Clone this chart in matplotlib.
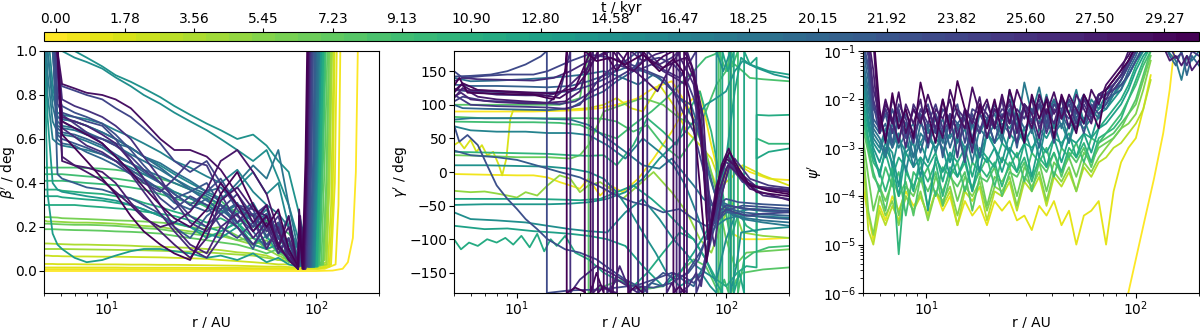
import numpy as np
import matplotlib
matplotlib.use("Agg")
import matplotlib.pyplot as plt
from matplotlib.colors import Normalize
from matplotlib.cm import ScalarMappable

# ---------------- data ----------------
N_SNAP = 50
CBAR_TICK_IDX = [0, 3, 6, 9, 12, 15, 18, 21, 24, 27, 30, 33, 36, 39, 42, 45, 48]
CBAR_TICK_LABELS = ["0.00", "1.78", "3.56", "5.45", "7.23", "9.13", "10.90", "12.80",
                    "14.58", "16.47", "18.25", "20.15", "21.92", "23.82", "25.60",
                    "27.50", "29.27"]

# panel 1: beta' (deg) on a common radius grid, plus the steep outer rise
R_BETA = [5.0, 5.2, 5.5, 5.8, 6.1, 7, 8, 9.5, 11, 13, 15, 18, 21, 25, 30, 35, 42, 50, 58, 66, 74, 82]
BETA_LINES = [
    (0, [0.0, 0.0, 0.0, 0.0, 0.0, 0.0, 0.0, 0.0, 0.0, 0.0, 0.0, 0.0, 0.0, 0.0, 0.0, 0.0, 0.0, 0.0, 0.0, 0.0, 0.0, 0.0],
     [100, 120, 134, 142, 150, 155, 159], [0.0, 0.002, 0.01, 0.04, 0.15, 0.45, 1.1]),
    (1, [0.008, 0.008, 0.008, 0.008, 0.008, 0.008, 0.008, 0.008, 0.008, 0.008, 0.008, 0.008, 0.008, 0.008, 0.008, 0.008, 0.008, 0.008, 0.008, 0.008, 0.008, 0.008],
     [110, 124, 128, 131], [0.01, 0.03, 0.3, 1.1]),
    (2, [0.016, 0.016, 0.016, 0.016, 0.016, 0.016, 0.016, 0.016, 0.016, 0.015, 0.015, 0.015, 0.015, 0.015, 0.014, 0.014, 0.014, 0.013, 0.013, 0.013, 0.012, 0.012],
     [105, 118, 123, 126], [0.015, 0.03, 0.4, 1.1]),
    (3, [0.032, 0.032, 0.032, 0.031, 0.031, 0.031, 0.03, 0.03, 0.03, 0.029, 0.029, 0.028, 0.028, 0.027, 0.026, 0.025, 0.024, 0.022, 0.02, 0.02, 0.018, 0.015],
     [102, 116, 120, 123], [0.01, 0.02, 0.3, 1.1]),
    (4, [0.07, 0.07, 0.068, 0.068, 0.067, 0.066, 0.066, 0.065, 0.065, 0.064, 0.063, 0.062, 0.06, 0.058, 0.055, 0.05, 0.045, 0.04, 0.035, 0.03, 0.03, 0.025],
     [100, 114, 118, 122], [0.02, 0.03, 0.3, 1.1]),
    (6, [0.125, 0.125, 0.124, 0.123, 0.122, 0.12, 0.12, 0.118, 0.117, 0.115, 0.112, 0.11, 0.108, 0.105, 0.1, 0.095, 0.085, 0.08, 0.07, 0.05, 0.06, 0.03],
     [100, 112, 116, 120], [0.02, 0.04, 0.5, 1.1]),
    (7, [0.1, 0.1, 0.1, 0.1, 0.1, 0.099, 0.098, 0.097, 0.096, 0.095, 0.094, 0.092, 0.09, 0.088, 0.085, 0.08, 0.075, 0.07, 0.06, 0.05, 0.045, 0.03],
     [100, 112, 116, 119], [0.02, 0.03, 0.4, 1.1]),
    (8, [0.23, 0.225, 0.225, 0.224, 0.223, 0.22, 0.22, 0.218, 0.215, 0.21, 0.205, 0.2, 0.19, 0.18, 0.17, 0.16, 0.14, 0.12, 0.1, 0.07, 0.05, 0.04],
     [98, 110, 114, 118], [0.02, 0.05, 0.4, 1.1]),
    (10, [0.245, 0.245, 0.244, 0.243, 0.24, 0.238, 0.236, 0.233, 0.23, 0.228, 0.225, 0.22, 0.215, 0.2, 0.19, 0.2, 0.16, 0.12, 0.14, 0.08, 0.06, 0.03],
     [98, 108, 112, 116], [0.02, 0.03, 0.4, 1.1]),
    (11, [0.215, 0.215, 0.214, 0.213, 0.212, 0.21, 0.21, 0.208, 0.205, 0.2, 0.195, 0.19, 0.18, 0.17, 0.16, 0.17, 0.14, 0.15, 0.1, 0.12, 0.06, 0.05],
     [97, 108, 112, 116], [0.03, 0.03, 0.4, 1.1]),
    (12, [0.19, 0.19, 0.19, 0.189, 0.188, 0.186, 0.185, 0.183, 0.18, 0.178, 0.175, 0.17, 0.16, 0.15, 0.14, 0.13, 0.12, 0.1, 0.08, 0.1, 0.04, 0.05],
     [95, 106, 110, 114], [0.02, 0.03, 0.5, 1.1]),
    (14, [0.47, 0.47, 0.47, 0.47, 0.47, 0.47, 0.468, 0.465, 0.46, 0.45, 0.44, 0.42, 0.4, 0.37, 0.33, 0.3, 0.27, 0.25, 0.22, 0.2, 0.17, 0.12],
     [96, 104, 108, 112], [0.05, 0.03, 0.5, 1.1]),
    (15, [0.44, 0.44, 0.44, 0.44, 0.44, 0.435, 0.43, 0.425, 0.42, 0.41, 0.4, 0.38, 0.36, 0.33, 0.29, 0.32, 0.25, 0.2, 0.23, 0.15, 0.1, 0.06],
     [95, 103, 107, 111], [0.04, 0.03, 0.5, 1.1]),
    (16, [0.41, 0.41, 0.41, 0.41, 0.41, 0.405, 0.4, 0.395, 0.39, 0.38, 0.37, 0.35, 0.33, 0.31, 0.3, 0.27, 0.3, 0.22, 0.18, 0.22, 0.12, 0.08],
     [95, 102, 106, 110], [0.04, 0.02, 0.5, 1.1]),
    (18, [0.37, 0.37, 0.37, 0.37, 0.365, 0.36, 0.355, 0.35, 0.34, 0.33, 0.31, 0.29, 0.27, 0.25, 0.22, 0.24, 0.2, 0.26, 0.15, 0.12, 0.15, 0.05],
     [94, 100, 104, 108], [0.03, 0.02, 0.5, 1.1]),
    (19, [0.3, 0.3, 0.3, 0.3, 0.3, 0.3, 0.295, 0.29, 0.285, 0.28, 0.27, 0.26, 0.25, 0.23, 0.2, 0.18, 0.22, 0.15, 0.12, 0.16, 0.08, 0.04],
     [94, 101, 105, 109], [0.03, 0.02, 0.5, 1.1]),
    (20, [0.34, 0.34, 0.34, 0.34, 0.335, 0.33, 0.325, 0.32, 0.31, 0.3, 0.28, 0.25, 0.22, 0.2, 0.15, 0.18, 0.22, 0.12, 0.16, 0.08, 0.1, 0.03],
     [93, 99, 103, 107], [0.02, 0.02, 0.5, 1.1]),
    (22, [1.1, 0.35, 0.17, 0.12, 0.1, 0.06, 0.04, 0.05, 0.07, 0.09, 0.1, 0.1, 0.09, 0.08, 0.06, 0.07, 0.05, 0.08, 0.04, 0.06, 0.03, 0.02],
     [92, 98, 102, 106], [0.03, 0.02, 0.5, 1.1]),
    (23, [1.2, 0.7, 0.4, 0.37, 0.36, 0.35, 0.34, 0.33, 0.32, 0.3, 0.28, 0.25, 0.22, 0.2, 0.17, 0.15, 0.2, 0.12, 0.1, 0.12, 0.05, 0.03],
     [92, 98, 102, 106], [0.03, 0.02, 0.5, 1.1]),
    (24, [1.2, 1.2, 1.2, 1.15, 1.05, 1.0, 0.97, 0.93, 0.89, 0.86, 0.83, 0.79, 0.75, 0.71, 0.67, 0.64, 0.6, 0.62, 0.57, 0.5, 0.45, 0.28],
     [88, 94, 98, 101], [0.15, 0.03, 0.5, 1.1]),
    (25, [1.2, 1.2, 1.15, 1.05, 1.0, 0.97, 0.95, 0.92, 0.88, 0.84, 0.8, 0.76, 0.72, 0.68, 0.64, 0.6, 0.55, 0.5, 0.55, 0.42, 0.3, 0.15],
     [90, 96, 100, 103], [0.06, 0.02, 0.5, 1.1]),
    (26, [1.2, 1.1, 0.85, 0.7, 0.69, 0.68, 0.66, 0.63, 0.6, 0.56, 0.52, 0.48, 0.44, 0.4, 0.36, 0.33, 0.38, 0.45, 0.35, 0.4, 0.2, 0.1],
     [91, 97, 100, 103], [0.05, 0.02, 0.5, 1.1]),
    (27, [1.2, 1.0, 0.8, 0.72, 0.71, 0.7, 0.69, 0.67, 0.64, 0.61, 0.58, 0.54, 0.5, 0.47, 0.43, 0.4, 0.46, 0.36, 0.3, 0.26, 0.2, 0.1],
     [92, 98, 101, 104], [0.04, 0.02, 0.5, 1.1]),
    (28, [1.2, 0.8, 0.6, 0.58, 0.57, 0.56, 0.55, 0.53, 0.5, 0.47, 0.44, 0.4, 0.36, 0.33, 0.3, 0.26, 0.3, 0.22, 0.28, 0.15, 0.12, 0.05],
     [90, 96, 100, 103], [0.03, 0.02, 0.5, 1.1]),
    (29, [1.2, 0.9, 0.68, 0.63, 0.62, 0.61, 0.59, 0.56, 0.52, 0.49, 0.46, 0.43, 0.4, 0.37, 0.34, 0.3, 0.26, 0.31, 0.2, 0.15, 0.1, 0.05],
     [90, 96, 100, 104], [0.03, 0.02, 0.5, 1.1]),
    (30, [1.2, 1.0, 0.75, 0.66, 0.65, 0.64, 0.62, 0.6, 0.57, 0.53, 0.5, 0.46, 0.42, 0.38, 0.35, 0.32, 0.4, 0.48, 0.42, 0.55, 0.3, 0.1],
     [89, 95, 99, 102], [0.04, 0.02, 0.5, 1.1]),
    (31, [1.2, 1.2, 1.0, 0.68, 0.66, 0.65, 0.63, 0.6, 0.58, 0.56, 0.52, 0.49, 0.45, 0.41, 0.36, 0.38, 0.3, 0.22, 0.26, 0.15, 0.1, 0.03],
     [89, 95, 99, 102], [0.02, 0.02, 0.5, 1.1]),
    (32, [1.2, 1.2, 1.0, 0.7, 0.69, 0.68, 0.66, 0.63, 0.6, 0.56, 0.52, 0.47, 0.42, 0.37, 0.32, 0.28, 0.22, 0.3, 0.2, 0.15, 0.25, 0.05],
     [88, 94, 98, 100], [0.03, 0.02, 0.5, 1.1]),
    (33, [1.2, 1.2, 1.1, 0.6, 0.58, 0.57, 0.54, 0.51, 0.48, 0.44, 0.41, 0.37, 0.31, 0.28, 0.33, 0.26, 0.31, 0.18, 0.1, 0.21, 0.05, 0.02],
     [88, 94, 98, 100], [0.05, 0.02, 0.5, 1.1]),
    (34, [1.2, 1.2, 1.05, 0.65, 0.63, 0.62, 0.6, 0.57, 0.53, 0.49, 0.45, 0.4, 0.35, 0.3, 0.27, 0.3, 0.22, 0.26, 0.16, 0.22, 0.08, 0.02],
     [88, 93, 97, 99], [0.06, 0.02, 0.5, 1.1]),
    (35, [1.2, 1.2, 1.1, 0.44, 0.42, 0.4, 0.38, 0.37, 0.35, 0.33, 0.3, 0.26, 0.2, 0.15, 0.25, 0.3, 0.2, 0.1, 0.25, 0.12, 0.06, 0.02],
     [88, 93, 97, 99], [0.08, 0.02, 0.5, 1.1]),
    (36, [1.2, 1.2, 1.1, 0.62, 0.6, 0.58, 0.56, 0.53, 0.5, 0.46, 0.42, 0.37, 0.33, 0.36, 0.4, 0.3, 0.25, 0.18, 0.26, 0.1, 0.14, 0.02],
     [87, 92, 95, 97], [0.08, 0.02, 0.5, 1.1]),
    (37, [1.2, 1.2, 1.2, 0.8, 0.75, 0.72, 0.7, 0.67, 0.62, 0.55, 0.48, 0.4, 0.35, 0.3, 0.36, 0.42, 0.3, 0.28, 0.15, 0.22, 0.1, 0.02],
     [87, 92, 95, 97], [0.1, 0.02, 0.5, 1.1]),
    (38, [1.2, 1.2, 1.2, 0.76, 0.72, 0.7, 0.68, 0.66, 0.6, 0.5, 0.42, 0.33, 0.28, 0.34, 0.3, 0.2, 0.15, 0.22, 0.12, 0.18, 0.06, 0.02],
     [86, 91, 94, 96], [0.1, 0.02, 0.5, 1.1]),
    (39, [1.2, 1.2, 1.2, 0.9, 0.84, 0.82, 0.8, 0.78, 0.74, 0.7, 0.65, 0.58, 0.5, 0.45, 0.5, 0.4, 0.28, 0.2, 0.3, 0.12, 0.05, 0.01],
     [86, 90, 93, 95], [0.12, 0.02, 0.5, 1.1]),
    (40, [1.2, 1.2, 1.2, 0.9, 0.68, 0.65, 0.62, 0.6, 0.57, 0.52, 0.46, 0.4, 0.33, 0.25, 0.2, 0.28, 0.35, 0.25, 0.3, 0.15, 0.1, 0.01],
     [86, 90, 93, 95], [0.15, 0.02, 0.5, 1.1]),
    (41, [1.2, 1.2, 1.2, 1.0, 0.71, 0.67, 0.63, 0.58, 0.52, 0.45, 0.4, 0.36, 0.42, 0.5, 0.48, 0.35, 0.22, 0.3, 0.18, 0.25, 0.08, 0.01],
     [85, 89, 92, 94], [0.15, 0.01, 0.5, 1.1]),
    (42, [1.2, 1.2, 1.2, 1.0, 0.78, 0.75, 0.73, 0.7, 0.66, 0.6, 0.52, 0.42, 0.32, 0.22, 0.18, 0.26, 0.2, 0.12, 0.2, 0.08, 0.15, 0.01],
     [85, 89, 92, 94], [0.2, 0.01, 0.5, 1.1]),
    (43, [1.2, 1.2, 1.2, 1.0, 0.65, 0.61, 0.57, 0.54, 0.5, 0.44, 0.36, 0.26, 0.18, 0.1, 0.06, 0.15, 0.3, 0.25, 0.1, 0.2, 0.05, 0.02],
     [85, 88, 91, 93], [0.2, 0.01, 0.5, 1.1]),
    (44, [1.2, 1.2, 1.2, 1.0, 0.7, 0.68, 0.66, 0.62, 0.58, 0.5, 0.42, 0.3, 0.2, 0.12, 0.08, 0.2, 0.26, 0.15, 0.22, 0.1, 0.06, 0.01],
     [84, 88, 91, 93], [0.15, 0.01, 0.5, 1.1]),
    (45, [1.2, 1.2, 1.2, 1.0, 0.52, 0.48, 0.47, 0.45, 0.4, 0.31, 0.25, 0.18, 0.12, 0.06, 0.15, 0.32, 0.38, 0.28, 0.25, 0.12, 0.2, 0.01],
     [84, 88, 91, 93], [0.25, 0.01, 0.5, 1.1]),
    (46, [1.2, 1.2, 1.2, 1.0, 0.5, 0.48, 0.45, 0.41, 0.36, 0.3, 0.24, 0.2, 0.22, 0.27, 0.37, 0.5, 0.55, 0.45, 0.35, 0.18, 0.08, 0.01],
     [84, 87, 90, 92], [0.2, 0.01, 0.5, 1.1]),
    (47, [1.2, 1.2, 1.2, 1.0, 0.85, 0.83, 0.81, 0.8, 0.78, 0.74, 0.68, 0.6, 0.55, 0.55, 0.52, 0.46, 0.35, 0.22, 0.3, 0.1, 0.25, 0.01],
     [83, 87, 90, 92], [0.28, 0.01, 0.5, 1.1]),
    (48, [1.2, 1.2, 1.2, 1.0, 0.68, 0.65, 0.62, 0.58, 0.52, 0.45, 0.38, 0.3, 0.24, 0.2, 0.28, 0.4, 0.3, 0.18, 0.25, 0.12, 0.05, 0.01],
     [83, 87, 90, 92], [0.2, 0.01, 0.5, 1.1]),
    (49, [1.2, 1.2, 1.2, 1.0, 0.62, 0.56, 0.5, 0.42, 0.35, 0.25, 0.18, 0.12, 0.08, 0.05, 0.2, 0.35, 0.45, 0.3, 0.2, 0.28, 0.1, 0.02],
     [83, 86, 89, 91], [0.25, 0.01, 0.5, 1.1]),
]

# panel 2: gamma' (deg); each line has its own radii (repeated radius = phase wrap)
GAMMA_LINES = [
    (0, [5, 8, 12, 16, 20, 25, 30, 38, 45, 55, 65, 75, 85, 95, 105, 120, 150, 200],
        [90, 90, 90, 91, 92, 95, 100, 110, 125, 135, 100, 60, 0, -40, -90, -100, -100, -98]),
    (1, [5, 7, 10, 12, 14, 16, 18, 20, 22, 25, 28, 32, 38, 45, 55, 65, 75, 85, 95, 105, 115, 130, 160, 200],
        [-3, -4, -5, -5, -8, -15, -20, -25, -10, -35, -20, -30, -10, 20, 60, 100, 120, 40, -20, 15, 10, 0, -10, -12]),
    (3, [5, 5.3, 5.6, 6, 6.4, 6.8, 7.2, 7.7, 8.2, 8.5, 8.9, 9.3, 9.6, 11, 14, 18, 22, 26, 30, 35, 40, 48, 56, 65, 75, 85, 95, 105, 120, 150, 200],
        [40, 45, 35, 48, 30, 40, 25, 30, 10, -5, 20, 80, 92, 92, 92, 93, 95, 100, 110, 95, 90, 130, 100, 60, 40, 20, -20, -10, 10, -5, -20]),
    (8, [5, 6, 7, 8, 9, 10, 11, 12.5, 14, 16, 18, 20, 22, 25, 28, 32, 38, 45, 55, 65, 75, 85, 95, 105, 120, 150, 200],
        [-28, -30, -29, -32, -35, -38, -30, -35, -20, -5, -10, -30, -20, -15, -25, -40, -20, 0, -30, -60, -100, -120, -80, -40, -90, -95, -98]),
    (11, [5, 7, 10, 14, 18, 20, 22, 26, 32, 40, 50, 60, 70, 80, 90, 100, 110, 125, 150, 200],
         [25, 24, 22, 22, 20, 25, 40, 90, 100, 110, 100, 80, 70, 30, -30, -100, -140, -120, -118, -115]),
    (13, [5, 8, 12, 16, 20, 22, 22, 26, 32, 40, 50, 60, 70, 80, 86, 92, 92, 100, 106, 106, 112, 120, 150, 200],
         [100, 100, 100, 100, 110, 180, -180, -170, -160, -175, -170, -150, -130, -140, -160, -180, 180, 150, 180, -180, -160, -150, -145, -142]),
    (14, [5, 7, 10, 14, 18, 22, 26, 30, 36, 42, 50, 60, 70, 80, 90, 100, 110, 120, 130, 150, 200],
         [82, 80, 80, 80, 80, 80, 79, 75, 60, 70, 40, 20, 50, 90, 130, 150, 160, 150, 140, 138, 135]),
    (15, [5, 8, 12, 16, 20, 24, 30, 36, 44, 52, 60, 70, 80, 88, 94, 94, 98, 103, 103, 108, 114, 114, 122, 135, 160, 200],
         [75, 74, 74, 73, 70, 60, 50, 70, 90, 110, 130, 150, 170, 175, 180, -180, -160, -180, 180, 160, 180, -180, -130, -120, -112, -110]),
    (17, [5, 7, 10, 14, 18, 22, 26, 30, 36, 42, 50, 58, 66, 75, 85, 95, 105, 115, 125, 140, 140, 160, 200],
         [30, 29, 28, 27, 25, 24, 25, 10, 40, 80, 60, 40, 90, 120, 60, -20, -100, -60, -80, -90, 50, 42, 42]),
    (19, [5, 5.4, 5.9, 6.5, 7.2, 8, 8.8, 9.6, 10.5, 11.5, 12.5, 13.5, 14.5, 15.5, 17, 19, 22, 26, 30, 36, 42, 50, 60, 70, 80, 90, 100, 113, 125, 140, 140, 160, 200],
         [-100, -115, -105, -110, -100, -105, -98, -108, -95, -112, -92, -118, -100, -110, -95, -120, -130, -150, -160, -170, -150, -120, -90, -100, -130, -160, -170, -150, -140, -142, 85, 84, 85]),
    (20, [5, 8, 12, 16, 20, 25, 30, 36, 44, 52, 60, 70, 80, 88, 96, 96, 102, 109, 109, 116, 122, 122, 130, 140, 140, 160, 200],
         [-40, -40, -40, -41, -42, -40, -30, -20, -40, -60, -80, -100, -130, -160, -180, 180, 150, 180, -180, -150, -180, 180, 160, 170, 20, 30, 35]),
    (21, [5, 7, 9, 12, 15, 18, 22, 27, 33, 40, 50, 60, 70, 80, 90, 100, 110, 118, 130, 160, 200],
         [-80, -85, -84, -88, -90, -92, -95, -100, -110, -140, -170, -150, -120, -90, -60, 20, 120, 170, 160, 150, 145]),
    (23, [5, 7, 10, 14, 18, 22, 27, 33, 40, 48, 56, 64, 72, 80, 90, 100, 110, 120, 140, 170, 200],
         [-49, -48, -48, -48, -47, -45, -40, -30, -10, 20, 40, 60, 80, 100, 110, 120, 150, 165, 155, 145, 140]),
    (24, [5, 7, 10, 14, 18, 22, 26, 30, 35, 40, 46, 52, 60, 68, 76, 84, 90, 90, 97, 105, 105, 112, 118, 150, 200],
         [10, 10, 9, 8, 5, 0, -10, -30, -60, -90, -120, -150, -170, -160, -150, -170, -180, 180, 150, 180, -180, -140, -90, -85, -82]),
    (25, [5, 6, 8, 11, 14, 18, 22, 27, 33, 40, 48, 56, 64, 72, 80, 90, 100, 112, 130, 160, 200],
         [-60, -70, -72, -75, -80, -85, -88, -90, -60, -40, -70, -100, -120, -140, -150, -160, -100, -60, -55, -56, -58]),
    (27, [5, 6, 8, 11, 14, 18, 22, 27, 33, 40, 48, 56, 64, 72, 80, 90, 100, 112, 125, 150, 200],
         [68, 62, 60, 60, 58, 58, 55, 40, 20, 50, 30, 10, -20, -60, -100, -80, -70, -66, -65, -66, -68]),
    (29, [5, 6, 8, 11, 14, 18, 22, 27, 33, 40, 48, 55, 62, 70, 78, 86, 95, 105, 120, 150, 200],
         [78, 80, 80, 80, 79, 78, 70, 50, 30, 10, 5, 20, 0, -20, -40, -50, -55, -60, -70, -75, -80]),
    (31, [5, 6, 8, 11, 14, 17, 21, 26, 32, 38, 45, 52, 60, 68, 75, 82, 90, 98, 108, 120, 150, 200],
         [140, 135, 136, 138, 140, 142, 145, 150, 140, 130, 145, 130, 110, 100, 60, 0, -40, -50, -65, -68, -72, -75]),
    (33, [5, 5.5, 7, 10, 14, 18, 22, 26, 30, 36, 40, 40, 44, 50, 56, 62, 70, 78, 86, 95, 105, 120, 150, 200],
         [100, 95, 94, 93, 92, 95, 110, 120, 135, 150, 180, -180, -165, -170, -150, -160, -170, -140, -80, -45, -50, -55, -58, -60]),
    (34, [5, 6, 8, 11, 14, 18, 22, 27, 33, 40, 48, 56, 64, 72, 80, 88, 96, 105, 120, 150, 200],
         [130, 128, 128, 127, 126, 128, 135, 145, 155, 150, 140, 120, 100, 70, 20, -30, -50, -55, -60, -63, -65]),
    (35, [5, 6, 8, 10, 13, 16, 20, 25, 30, 36, 42, 50, 60, 70, 80, 90, 100, 115, 130, 160, 200],
         [32, 25, 22, 18, 8, 0, -8, -22, -35, -45, -50, -60, -55, -70, -80, -75, -60, -62, -65, -68, -70]),
    (36, [5, 6, 8, 11, 14, 18, 22, 27, 33, 38, 38, 44, 50, 58, 66, 74, 82, 90, 100, 115, 150, 200],
         [122, 120, 119, 118, 118, 120, 128, 140, 165, 180, -180, -165, -150, -160, -150, -130, -90, -50, -40, -45, -48, -50]),
    (37, [5, 5.3, 5.8, 6.5, 7.2, 8, 9, 10, 11, 12.5, 14, 17, 20, 24, 28, 33, 38, 45, 55, 65, 75, 85, 95, 105, 120, 150, 200],
         [70, 45, 55, 40, 10, -20, -40, -55, -70, -85, -100, -115, -120, -130, -145, -160, -170, -172, -165, -150, -120, -80, -60, -55, -50, -52, -55]),
    (38, [5, 6, 7.5, 9, 11, 13, 13.9, 13.9, 18, 24, 30, 38, 45, 55, 62, 70, 78, 85, 92, 100, 112, 130, 160, 200],
         [142, 143, 145, 150, 160, 172, 180, -180, -176, -175, -172, -168, -160, -150, -155, -165, -150, -100, -60, -50, -52, -55, -57, -58]),
    (39, [5, 5.5, 7, 9, 12, 14, 18, 22, 28, 35, 42, 50, 56, 62, 70, 77, 84, 92, 100, 110, 125, 150, 200],
         [150, 140, 143, 145, 145, 150, 165, 175, 170, 160, 150, 140, 120, 90, 60, 10, -40, -70, -55, -60, -65, -62, -60]),
    (40, [5, 5.5, 7, 10, 13, 16, 19, 23, 28, 34, 40, 48, 56, 64, 70, 78, 86, 94, 104, 120, 150, 200],
         [105, 112, 106, 104, 103, 101, 105, 120, 135, 150, 165, 170, 160, 140, 110, 50, -80, -40, 10, -15, -25, -28]),
    (41, [5, 6, 8, 11, 14, 17, 20, 25, 30, 37, 44, 52, 60, 66, 72, 72, 78, 85, 92, 100, 110, 130, 160, 200],
         [115, 100, 98, 97, 96, 94, 100, 140, 160, 150, 160, 150, 140, 160, 180, -180, -150, -90, -40, 5, 20, -10, -20, -24]),
    (42, [5, 6, 8, 11, 14, 16, 18, 18, 20, 24, 28, 32, 36, 40, 42, 42, 48, 55, 60, 60, 66, 72, 76, 80, 86, 93, 100, 115, 140, 200],
         [124, 120, 115, 114, 114, 118, 180, -180, -160, -140, -150, -160, -175, -170, -180, 180, 160, 170, 180, -180, -170, -150, -170, -120, -70, -10, 15, 0, -22, -26]),
    (43, [5, 5.5, 6.5, 9, 12, 15, 18, 22, 27, 27, 30, 34, 38, 38, 44, 50, 57, 64, 70, 76, 82, 88, 96, 105, 120, 150, 200],
         [135, 140, 138, 137, 136, 140, 150, 165, 180, -180, -160, -170, -180, 180, 165, 150, 140, 130, 150, 90, -60, -110, -30, 15, -10, -35, -40]),
    (44, [5, 5.4, 6, 8, 11, 14, 18, 21, 24, 28, 28, 31, 35, 35, 40, 46, 52, 52, 55, 58, 58, 64, 70, 76, 84, 92, 101, 112, 130, 200],
         [112, 118, 108, 104, 102, 102, 130, 150, 170, 180, -180, -140, -180, 180, 165, 175, 180, -180, -165, -180, 180, 155, 130, 40, -90, -20, 25, 5, -20, -28]),
    (45, [5, 5.5, 6.5, 8, 11, 14, 17, 20, 23.1, 23.1, 25, 27, 30.1, 30.1, 35, 40, 47, 55, 60, 60, 63, 65, 65, 70, 78, 84, 92, 102, 112, 130, 200],
         [110, 125, 112, 108, 105, 103, 105, 120, 180, -180, -168, -175, -180, 180, 155, 140, 120, 160, 180, -180, -175, -180, 180, 150, 80, -80, -30, 10, 0, -25, -42]),
    (47, [5, 5.4, 6, 8, 10, 13, 16, 19, 22, 24.4, 24.4, 26, 28.8, 28.8, 32, 36, 42, 50, 58, 64, 70, 76, 82, 90, 100, 110, 125, 150, 200],
         [120, 130, 122, 120, 118, 115, 110, 125, 150, 180, -180, -170, -180, 180, 160, 150, 170, 155, 165, 170, 140, 60, -100, -20, 20, 10, -15, -25, -30]),
    (48, [5, 5.5, 6.5, 9, 12, 15, 19, 22.5, 22.5, 24, 26, 26, 30, 34, 34, 37, 40, 40, 45, 50, 56, 56, 60, 63, 63, 68, 73, 78, 82, 88, 95, 103, 115, 140, 200],
         [118, 132, 122, 120, 118, 117, 125, 180, -180, -150, -180, 180, 150, 180, -180, -170, -180, 180, 160, 172, 180, -180, -170, -180, 180, 160, 120, 20, -100, -60, 10, 35, -5, -30, -36]),
    (49, [5, 5.3, 5.8, 7, 9, 12, 15, 17, 17.3, 17.3, 19, 21, 21.1, 21.1, 24, 28, 33, 40, 48, 56, 62, 67, 72, 80.7, 87, 93.6, 104, 115, 130, 160, 200],
         [128, 140, 118, 117, 116, 115, 108, 150, 180, -180, -172, -178, -180, 180, 165, 170, 160, 175, 150, 168, 150, 110, 40, -134, -60, 0, 30, 5, -20, -28, -33]),
]

# panel 3: log10(psi') on a common radius grid
R_PSI = [5.0, 5.3, 5.6, 6.0, 6.4, 6.9, 7.4, 8.0, 8.7, 9.4,
         10.2, 11.1, 12.0, 13.0, 14.1, 15.3, 16.6, 18.0, 19.5, 21.2,
         23.0, 25.0, 27.1, 29.4, 31.9, 34.6, 37.5, 40.7, 44.2, 48.0,
         52.0, 56.5, 61.3, 66.5, 72.1, 78.3, 85.0, 92.2, 100.0, 108.5,
         117.7]
PSI_LOG_LINES = [
    (2, [-3.8, -4.4, -4.9, -4.2, -4.5, -4.0, -4.3, -3.9, -4.2, -4.0,
         -4.4, -3.9, -4.3, -4.0, -4.6, -4.1, -4.4, -4.2, -4.6, -4.1,
         -4.3, -4.1, -4.5, -4.4, -4.7, -4.2, -4.4, -4.1, -4.6, -4.3,
         -5.0, -4.4, -4.3, -4.1, -5.0, -3.9, -3.3, -3.0, -2.8, -2.2,
         -1.5]),
    (5, [-3.2, -4.7, -5.0, -4.3, -4.6, -4.2, -4.5, -4.0, -4.3, -4.0,
         -4.4, -3.9, -4.2, -3.9, -4.6, -3.9, -4.1, -3.8, -4.5, -3.9,
         -4.0, -3.7, -4.3, -3.7, -3.9, -3.6, -4.2, -3.6, -3.8, -3.5,
         -3.9, -3.4, -3.6, -3.3, -3.2, -3.0, -2.9, -2.7, -2.5, -2.2,
         -1.6]),
    (9, [-3.0, -4.3, -4.8, -4.0, -4.4, -4.1, -4.6, -4.0, -4.3, -3.9,
         -4.5, -3.9, -4.1, -3.8, -4.4, -3.8, -4.0, -3.7, -4.3, -3.8,
         -3.9, -3.6, -4.2, -3.6, -3.8, -3.5, -4.1, -3.5, -3.7, -3.4,
         -3.9, -3.3, -3.5, -3.2, -3.0, -2.8, -2.6, -2.5, -2.3, -1.8,
         -1.2]),
    (11, [-2.8, -3.6, -4.3, -3.8, -4.1, -3.7, -4.4, -3.8, -4.0, -3.6,
          -4.2, -3.6, -3.9, -3.5, -4.1, -3.6, -3.8, -3.5, -4.2, -3.6,
          -3.7, -3.4, -4.0, -3.4, -3.6, -3.3, -3.9, -3.3, -3.5, -3.2,
          -3.6, -3.1, -3.3, -3.0, -2.9, -2.8, -2.6, -2.3, -2.1, -1.6,
          -1.1]),
    (13, [-2.6, -3.1, -3.6, -3.8, -4.3, -3.6, -4.0, -3.7, -4.4, -3.6,
          -3.9, -3.5, -4.2, -3.6, -3.8, -3.5, -4.3, -3.6, -3.7, -3.4,
          -4.0, -3.5, -3.6, -3.3, -3.9, -3.3, -3.5, -3.1, -3.6, -3.1,
          -3.3, -3.0, -3.4, -2.9, -2.8, -2.7, -2.5, -2.3, -2.0, -1.5,
          -1.0]),
    (15, [-2.4, -3.0, -3.5, -3.9, -3.4, -3.8, -3.5, -4.4, -3.5, -3.7,
          -3.4, -4.0, -3.4, -3.6, -3.3, -3.9, -3.3, -3.5, -3.2, -3.8,
          -3.2, -3.4, -3.1, -3.7, -3.1, -3.3, -3.0, -3.6, -3.0, -3.2,
          -2.9, -3.3, -2.8, -2.9, -2.7, -2.5, -2.3, -2.0, -1.7, -1.3,
          -1.0]),
    (17, [-2.3, -2.9, -3.3, -3.5, -3.9, -3.4, -5.2, -3.5, -3.8, -3.4,
          -3.7, -3.3, -4.0, -3.4, -3.6, -3.3, -3.9, -3.4, -3.6, -3.3,
          -3.8, -3.3, -3.5, -3.2, -3.7, -3.2, -3.4, -3.1, -3.5, -3.0,
          -3.2, -2.9, -3.3, -2.8, -2.7, -2.6, -2.4, -2.0, -1.6, -1.2,
          -0.9]),
    (19, [-2.1, -2.8, -3.2, -3.5, -3.1, -3.6, -3.2, -3.4, -3.9, -3.2,
          -3.4, -3.1, -3.7, -3.1, -3.3, -3.0, -3.6, -3.0, -3.2, -3.4,
          -2.9, -3.1, -3.5, -2.9, -3.0, -2.8, -3.4, -2.8, -2.9, -2.7,
          -3.2, -2.7, -2.8, -2.6, -2.4, -2.2, -2.0, -1.7, -1.3, -1.0,
          -0.8]),
    (21, [-2.0, -2.6, -3.1, -3.6, -3.0, -3.3, -4.0, -3.1, -3.4, -3.2,
          -4.3, -3.2, -3.5, -3.1, -3.6, -3.2, -3.9, -3.1, -3.3, -3.0,
          -3.5, -3.0, -3.2, -2.9, -3.6, -2.9, -3.1, -2.8, -3.3, -2.8,
          -2.9, -2.7, -3.1, -2.6, -2.5, -2.3, -2.1, -1.8, -1.4, -1.1,
          -0.9]),
    (23, [-1.7, -2.5, -3.0, -3.3, -2.9, -3.1, -3.8, -2.9, -3.2, -2.9,
          -3.3, -2.8, -3.0, -3.6, -2.8, -3.1, -2.8, -3.2, -2.7, -3.0,
          -3.3, -2.7, -2.9, -2.6, -3.1, -2.6, -2.8, -2.5, -3.0, -2.5,
          -2.6, -2.4, -2.8, -2.3, -2.2, -2.0, -1.8, -1.5, -1.2, -0.9,
          -0.6]),
    (25, [-1.5, -2.4, -2.9, -3.1, -2.7, -3.4, -2.8, -3.1, -2.9, -3.6,
          -2.8, -3.0, -2.8, -3.3, -2.7, -3.0, -2.8, -3.5, -2.7, -2.9,
          -2.7, -3.1, -2.6, -2.9, -2.6, -3.2, -2.5, -2.7, -2.5, -2.9,
          -2.4, -2.6, -2.4, -2.2, -2.1, -1.9, -1.6, -1.3, -1.0, -0.8,
          -0.5]),
    (27, [-1.4, -2.2, -2.8, -3.0, -2.6, -3.0, -2.7, -3.5, -2.7, -2.9,
          -2.6, -3.1, -2.6, -2.8, -2.5, -3.2, -2.5, -2.7, -2.4, -2.9,
          -2.4, -2.6, -2.3, -2.8, -2.2, -2.5, -1.9, -2.6, -2.0, -2.3,
          -1.8, -2.5, -2.0, -2.2, -1.9, -1.8, -1.6, -1.3, -1.0, -0.7,
          -0.5]),
    (29, [-1.3, -2.0, -2.7, -2.9, -3.2, -2.6, -3.0, -2.7, -3.4, -2.7,
          -2.9, -2.6, -3.1, -2.7, -2.9, -2.6, -3.3, -2.6, -2.8, -2.5,
          -2.9, -1.8, -2.6, -1.65, -2.3, -1.75, -2.5, -2.0, -2.3, -2.9,
          -2.2, -2.4, -2.3, -2.1, -2.2, -1.9, -1.7, -1.5, -1.2, -1.0,
          -0.8]),
    (31, [-1.2, -1.8, -2.6, -2.8, -3.1, -2.5, -2.8, -2.5, -3.2, -2.5,
          -2.7, -2.4, -2.9, -2.4, -2.6, -2.4, -3.0, -2.3, -2.5, -2.3,
          -2.8, -2.2, -2.4, -2.2, -2.7, -2.1, -2.3, -2.0, -2.6, -2.0,
          -2.2, -1.9, -2.4, -2.0, -1.9, -1.7, -1.5, -1.2, -0.9, -0.6,
          -0.4]),
    (33, [-1.0, -1.6, -2.5, -2.7, -2.5, -3.0, -2.4, -2.7, -2.5, -3.1,
          -2.5, -2.7, -2.4, -3.0, -2.5, -2.6, -2.5, -3.2, -2.4, -2.6,
          -2.5, -2.7, -2.3, -2.6, -2.4, -3.0, -2.3, -2.5, -2.3, -2.6,
          -2.2, -2.5, -2.2, -2.4, -2.0, -1.9, -1.8, -1.4, -1.1, -0.7,
          -0.4]),
    (35, [-0.9, -1.4, -2.4, -2.6, -2.3, -2.9, -2.3, -2.5, -2.9, -2.3,
          -2.6, -2.3, -3.2, -2.3, -2.5, -2.3, -2.8, -2.2, -2.4, -2.2,
          -2.6, -2.2, -3.0, -2.1, -2.3, -2.1, -2.6, -2.1, -2.3, -2.0,
          -2.4, -2.0, -2.2, -1.9, -1.9, -1.7, -1.5, -1.3, -1.0, -0.6,
          -0.4]),
    (37, [-0.8, -1.3, -2.2, -2.4, -2.8, -2.2, -2.6, -2.3, -2.7, -2.4,
          -3.0, -2.3, -2.7, -2.4, -2.6, -3.3, -2.3, -2.6, -2.4, -2.9,
          -2.3, -2.5, -2.4, -2.8, -2.2, -2.5, -2.3, -2.9, -2.2, -2.4,
          -2.2, -2.7, -2.1, -2.3, -2.1, -1.8, -1.7, -1.5, -1.2, -0.9,
          -0.5]),
    (39, [-0.7, -1.1, -2.1, -2.7, -2.2, -2.5, -2.2, -2.8, -2.2, -2.4,
          -2.1, -2.7, -2.2, -2.4, -2.1, -2.9, -2.2, -2.3, -2.6, -2.1,
          -2.4, -2.1, -2.6, -2.1, -2.3, -2.0, -2.5, -2.1, -2.2, -2.0,
          -2.3, -1.9, -2.2, -1.9, -1.8, -1.7, -1.5, -1.2, -0.9, -0.6,
          -0.3]),
    (41, [-0.7, -1.0, -2.0, -2.5, -2.2, -2.7, -2.1, -2.4, -2.9, -2.2,
          -2.5, -2.1, -2.6, -2.3, -3.2, -2.2, -2.4, -2.7, -2.1, -2.5,
          -2.2, -2.3, -2.9, -2.1, -2.5, -2.1, -2.7, -2.2, -2.4, -2.1,
          -2.5, -2.1, -2.4, -2.0, -1.9, -1.8, -1.6, -1.3, -1.0, -0.7,
          -0.4]),
    (43, [-0.6, -0.8, -1.8, -2.3, -2.8, -2.0, -2.3, -3.0, -2.1, -2.4,
          -2.2, -2.6, -2.0, -2.7, -2.2, -2.4, -3.1, -2.1, -2.3, -2.6,
          -2.0, -2.8, -2.2, -2.4, -2.0, -2.6, -2.2, -2.5, -1.95, -2.3,
          -2.6, -2.0, -2.3, -1.9, -2.0, -1.7, -1.5, -1.2, -0.9, -0.6,
          -0.3]),
    (45, [-0.5, -0.7, -1.4, -2.7, -2.1, -2.4, -2.9, -2.1, -2.5, -2.0,
          -2.9, -2.2, -2.4, -2.0, -2.8, -2.2, -2.5, -1.95, -2.8, -2.2,
          -2.4, -2.0, -2.7, -2.1, -2.3, -2.8, -1.95, -2.3, -2.0, -2.6,
          -1.9, -2.2, -2.5, -1.9, -1.8, -1.6, -1.4, -1.0, -0.7, -0.4,
          -0.3]),
    (47, [-0.6, -0.5, -0.8, -2.6, -2.0, -2.5, -1.85, -2.7, -2.2, -2.5,
          -1.9, -2.4, -2.8, -1.8, -2.3, -2.6, -1.75, -2.3, -2.0, -2.6,
          -1.9, -2.5, -1.8, -2.2, -2.6, -1.9, -2.3, -1.85, -2.4, -1.9,
          -2.2, -2.5, -1.8, -2.1, -1.7, -1.5, -1.3, -1.1, -0.8, -0.5,
          -0.3]),
    (49, [-0.5, -0.5, -0.6, -2.2, -2.9, -1.87, -2.6, -2.2, -2.8, -1.65,
          -2.3, -2.9, -2.0, -2.6, -1.62, -2.2, -2.9, -2.1, -2.6, -2.0,
          -2.7, -1.8, -2.3, -2.9, -1.9, -2.4, -2.0, -2.8, -1.9, -2.3,
          -2.7, -1.9, -2.2, -2.6, -1.8, -1.6, -1.4, -1.2, -0.9, -0.5,
          -0.3]),
]
# lines re-entering the plot at large radii (continuations of the lines above)
PSI_TAIL_R = [125, 135, 145, 155, 165, 175, 185, 200]
PSI_TAILS = [
    (29, [-0.6, -0.7, -1.05, -1.2, -1.6, -1.1, -1.2, -1.0]),
    (33, [-0.5, -0.8, -1.1, -1.3, -1.0, -1.5, -1.1, -1.3]),
    (45, [-0.6, -0.9, -1.2, -1.1, -1.3, -1.1, -1.4, -1.2]),
    (41, [-0.5, -0.6, -0.9, -1.15, -1.05, -1.3, -1.0, -1.1]),
]
# earliest snapshot: psi' rises steeply at large radius
PSI0_R = [85, 92, 100, 110, 122, 135, 145, 152]
PSI0_LOG = [-7.0, -6.0, -5.3, -4.5, -3.64, -2.7, -1.8, -1.0]

# ---------------- figure ----------------
plt.rcParams['font.family'] = ['DejaVu Sans']
fig = plt.figure(figsize=(12, 3.28), dpi=100)
cmap = plt.get_cmap('viridis_r', N_SNAP)
LW = 1.3

ax1 = fig.add_axes([44/1200, 1 - 293/328, 335/1200, 242/328])
ax2 = fig.add_axes([454/1200, 1 - 293/328, 335/1200, 242/328])
ax3 = fig.add_axes([863/1200, 1 - 293/328, 336/1200, 242/328])

for idx, vals, tr, tv in BETA_LINES:
    assert len(vals) == len(R_BETA)
    ax1.plot(list(R_BETA) + list(tr), list(vals) + list(tv), color=cmap(idx), lw=LW)
for idx, rr, gg in GAMMA_LINES:
    assert len(rr) == len(gg), idx
    ax2.plot(rr, gg, color=cmap(idx), lw=LW)
ax3.plot(PSI0_R, 10.0 ** np.array(PSI0_LOG), color=cmap(0), lw=LW)
tails = dict(PSI_TAILS)
for idx, lv in PSI_LOG_LINES:
    assert len(lv) == len(R_PSI), idx
    rr = list(R_PSI)
    vv = list(lv)
    if idx in tails:
        rr += PSI_TAIL_R
        vv += tails[idx]
    ax3.plot(rr, 10.0 ** np.array(vv), color=cmap(idx), lw=LW)

for ax in (ax1, ax2, ax3):
    ax.set_xscale('log')
    ax.set_xlim(5, 200)
    ax.tick_params(axis='x', which='major', pad=0.8)
    ax.tick_params(axis='y', which='major', pad=1.5)
    ax.set_xlabel('r / AU', labelpad=-1.2)

ax1.set_ylim(-0.1, 1.0)
ax1.set_yticks([0.0, 0.2, 0.4, 0.6, 0.8, 1.0])
ax1.set_ylabel(r"$\beta'$ / deg", labelpad=-2.3)

ax2.set_ylim(-180, 180)
ax2.set_yticks([-150, -100, -50, 0, 50, 100, 150])
ax2.set_ylabel(r"$\gamma'$ / deg", labelpad=-1)

ax3.set_yscale('log')
ax3.set_ylim(1e-6, 1e-1)
ax3.set_ylabel(r"$\psi'$", labelpad=-1)

cax = fig.add_axes([44/1200, 1 - 41/328, 1155/1200, 9/328])
sm = ScalarMappable(norm=Normalize(-0.5, N_SNAP - 0.5), cmap=cmap)
cb = fig.colorbar(sm, cax=cax, orientation='horizontal', ticklocation='top')
cb.set_ticks(CBAR_TICK_IDX)
cb.set_ticklabels(CBAR_TICK_LABELS)
cax.tick_params(axis='x', which='major', length=3, pad=1)
cax.tick_params(axis='x', which='minor', length=0)
cb.set_label('t / kyr', labelpad=0)

fig.savefig('out.png', dpi=100)
